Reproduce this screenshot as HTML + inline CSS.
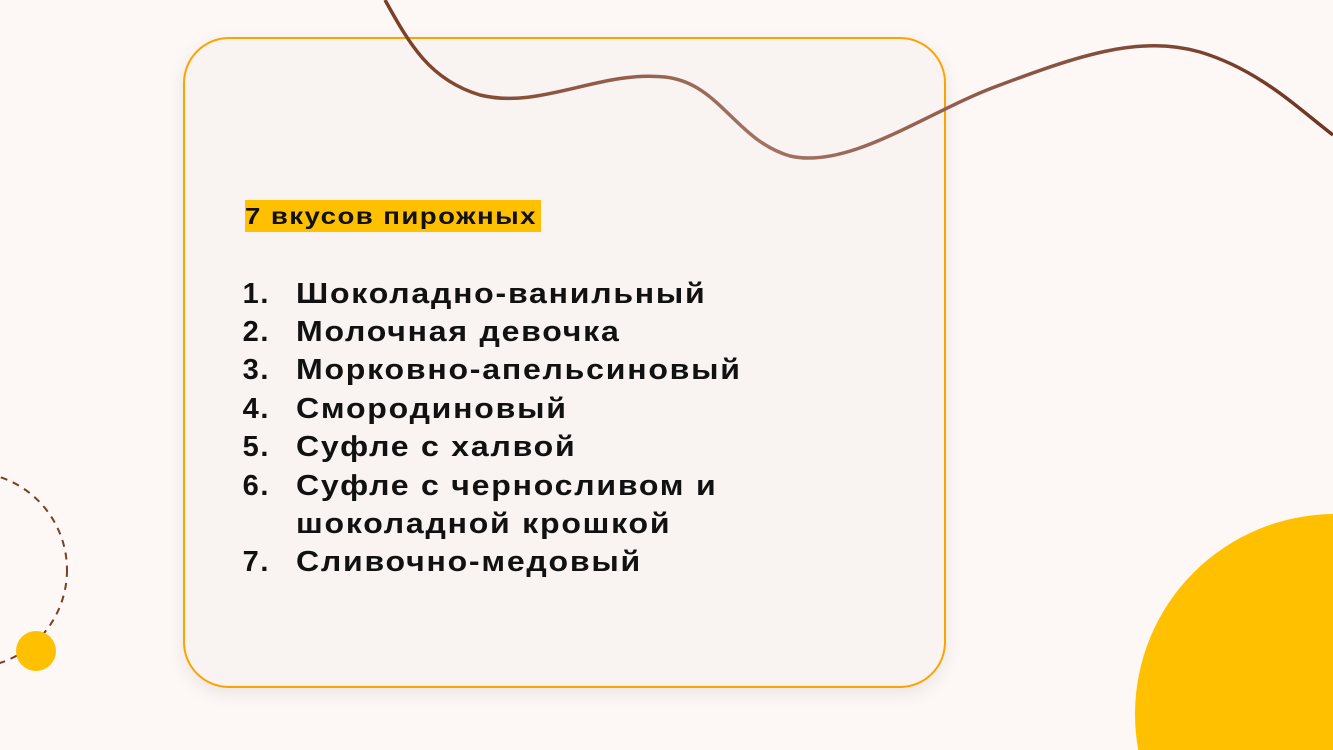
<!DOCTYPE html>
<html><head><meta charset="utf-8"><style>
html,body{margin:0;padding:0;overflow:hidden;width:1333px;height:750px;}
body{background:#fdf8f6;position:relative;font-family:"Liberation Sans",sans-serif;}
.card{position:absolute;left:183px;top:37px;width:759px;height:647px;border:2px solid #ffa200;border-radius:46px;background:#f9f4f2;box-shadow:0 6px 18px rgba(0,0,0,0.08);}
.hl{position:absolute;left:245px;top:200px;height:32px;width:296px;background:#ffc000;}
.title{position:absolute;left:245px;top:200px;font-weight:bold;font-size:23px;line-height:32px;color:#111;letter-spacing:1.2px;white-space:nowrap;transform:scaleX(1.2);transform-origin:left center;}
.li{position:absolute;font-weight:bold;font-size:29px;color:#111;white-space:nowrap;letter-spacing:1.6px;line-height:38px;}
.n{width:60px;text-align:right;left:210px;}
.t{left:296px;transform:scaleX(1.105);transform-origin:left center;}
svg{position:absolute;left:0;top:0;}
</style></head><body>
<div class="card"></div>
<svg width="1333" height="750" viewBox="0 0 1333 750">
<defs><linearGradient id="g" x1="0" x2="1"><stop offset="0" stop-color="#7a3e25"/><stop offset="0.4" stop-color="#a27363"/><stop offset="1" stop-color="#6f3420"/></linearGradient></defs>
<path d="M385,0 C410,45 430,80 480,95 C540,110 600,70 665,77 C720,83 735,140 790,156 C850,170 930,110 1000,85 C1080,55 1140,35 1200,52 C1260,70 1300,110 1333,135" fill="none" stroke="url(#g)" stroke-width="3.5"/>
<circle cx="-31" cy="570" r="98" fill="none" stroke="#7a3e25" stroke-width="2" stroke-dasharray="7,6"/>
<circle cx="36" cy="651" r="20" fill="#ffc000"/>
<circle cx="1335" cy="714" r="200" fill="#ffc000"/>
</svg>
<div class="hl"></div>
<div class="title">7 вкусов пирожных</div>
<div class="li n" style="top:275px">1.</div><div class="li t" style="top:275px">Шоколадно-ванильный</div>
<div class="li n" style="top:313px">2.</div><div class="li t" style="top:313px">Молочная девочка</div>
<div class="li n" style="top:351px">3.</div><div class="li t" style="top:351px">Морковно-апельсиновый</div>
<div class="li n" style="top:390px">4.</div><div class="li t" style="top:390px">Смородиновый</div>
<div class="li n" style="top:428px">5.</div><div class="li t" style="top:428px">Суфле с халвой</div>
<div class="li n" style="top:467px">6.</div><div class="li t" style="top:467px">Суфле с черносливом и</div>
<div class="li t" style="top:505px">шоколадной крошкой</div>
<div class="li n" style="top:543px">7.</div><div class="li t" style="top:543px">Сливочно-медовый</div>
</body></html>
